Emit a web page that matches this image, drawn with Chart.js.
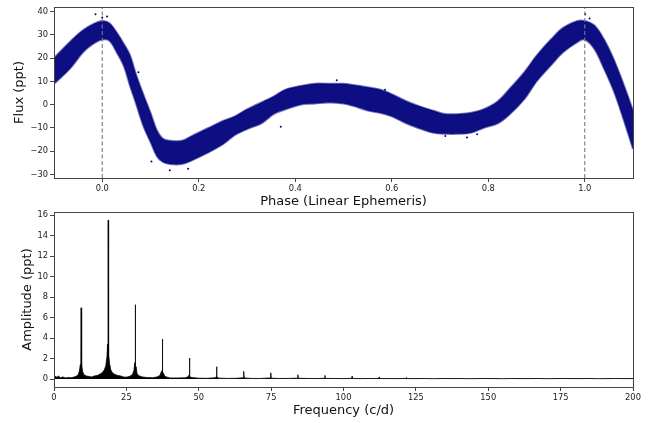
<!DOCTYPE html>
<html>
<head>
<meta charset="utf-8">
<script src="https://cdn.jsdelivr.net/npm/chart.js@4.4.1/dist/chart.umd.min.js"></script>
<style>
  html, body { margin: 0; padding: 0; background: #fff; }
  #wrap { position: relative; width: 659px; height: 423px; }
  canvas { position: absolute; left: 0; }
  #curva { top: 0; }
  #espectro { top: 205px; }
</style>
</head>
<body>
<div id="wrap">
  <canvas id="curva" width="659" height="215"></canvas>
  <canvas id="espectro" width="659" height="218"></canvas>
</div>
<script>
// Light curve: lower/upper edge of the phase-folded point cloud (ppt)
const phaseGrid = [-0.10, -0.067, -0.04, -0.02, 0.00, 0.015, 0.03, 0.045, 0.057, 0.07,
  0.085, 0.10, 0.113, 0.125, 0.14, 0.165, 0.19, 0.22, 0.25, 0.275,
  0.30, 0.33, 0.355, 0.38, 0.41, 0.44, 0.47, 0.50, 0.52, 0.55,
  0.575, 0.60, 0.63, 0.655, 0.685, 0.71, 0.74, 0.765, 0.79, 0.82,
  0.845, 0.875, 0.90, 0.93, 0.955, 0.985, 1.00, 1.02, 1.04, 1.06,
  1.08, 1.10];
const fluxLower = [9, 15.5, 22.5, 26, 28, 27.5, 22.5, 16.5, 8.5, 0.5,
  -9, -16, -22, -24.5, -25.5, -25.5, -23.5, -20.5, -17, -13,
  -10.5, -8, -4, -2, 0, 0.5, 1, 0.5, -0.5, -2.5,
  -3.5, -5, -8, -10, -12, -12.5, -12.5, -12, -10, -8,
  -4, 2.5, 10, 17, 22.5, 27, 28, 24, 15.5, 6,
  -6, -19];
const fluxUpper = [20, 27, 32, 34.5, 36, 35, 31, 26, 21.5, 13,
  4.5, -3.5, -11, -14.5, -15.5, -15.5, -13, -10, -7, -5,
  -2, 1, 3.5, 6.5, 8, 9, 9, 9, 8.5, 7.5,
  6.5, 4.5, 1.5, -0.5, -2.5, -4, -4, -3.5, -2, 1.5,
  7, 14, 21, 28, 33, 36, 36, 34, 28, 19.5,
  9, -2.5];
// stray points outside the main cloud
const strayPhase = [-0.014, 0.0, 0.01, 0.075, 0.102, 0.14, 0.178, 0.21, 0.37, 0.486, 0.586, 0.711, 0.756, 0.777, 1.001, 1.01];
const strayFlux = [38.9, 37.5, 37.9, 13.9, -24.4, -28.2, -27.5, -11.6, -9.5, 10.5, 6.4, -13.4, -14.1, -12.7, 38.9, 37];
const markerPhases = [0, 1];

// Amplitude spectrum (c/d, ppt)
const specFreq = [0, 0.5, 1.0, 1.5, 2.2, 3.0, 4.0, 5.0, 6.0, 7.0,
  7.8, 8.4, 8.8, 9.1, 9.25, 9.36, 9.48, 9.62, 9.9, 10.4,
  11.2, 12.0, 13.0, 14.0, 15.0, 16.0, 16.8, 17.4, 17.9, 18.3,
  18.55, 18.64, 18.72, 18.8, 18.92, 19.2, 19.6, 20.2, 21.0, 22.0,
  23.0, 24.0, 25.0, 26.0, 27.0, 27.6, 27.92, 28.0, 28.08, 28.17,
  28.35, 28.7, 29.5, 30.5, 32.0, 34.0, 35.6, 36.6, 37.2, 37.34,
  37.44, 37.54, 37.7, 38.3, 40.0, 43.0, 45.5, 46.4, 46.7, 46.8,
  46.9, 47.3, 50.0, 53.0, 55.8, 56.08, 56.16, 56.26, 57.0, 60.0,
  63.0, 65.3, 65.52, 65.7, 68.0, 71.0, 74.7, 74.88, 75.05, 78.0,
  81.0, 84.1, 84.24, 84.4, 88.0, 91.0, 93.5, 93.6, 93.7, 97.0,
  100.0, 102.9, 102.96, 103.05, 106.0, 109.0, 112.25, 112.32, 112.4, 116.0,
  119.0, 121.6, 121.68, 121.76, 125, 128, 131, 134, 137, 140,
  143, 146, 149, 152, 155, 158, 161, 164, 167, 170,
  173, 176, 179, 182, 185, 188, 191, 194, 197, 200];
const specAmp = [0.1, 0.3, 0.15, 0.3, 0.12, 0.2, 0.1, 0.15, 0.12, 0.2,
  0.3, 0.45, 0.8, 1.4, 0.5, 6.95, 0.6, 1.3, 0.7, 0.4,
  0.3, 0.25, 0.2, 0.3, 0.35, 0.5, 0.65, 0.9, 1.3, 2.2,
  3.4, 0.8, 15.5, 1.0, 2.3, 1.5, 0.9, 0.6, 0.45, 0.35,
  0.3, 0.2, 0.18, 0.25, 0.4, 0.8, 1.6, 0.5, 7.25, 0.6,
  1.2, 0.5, 0.3, 0.2, 0.15, 0.12, 0.2, 0.35, 0.8, 0.3,
  3.9, 0.4, 0.6, 0.25, 0.1, 0.1, 0.12, 0.25, 0.4, 2.05,
  0.3, 0.15, 0.08, 0.07, 0.12, 0.25, 1.2, 0.2, 0.08, 0.06,
  0.07, 0.12, 0.75, 0.1, 0.06, 0.05, 0.1, 0.6, 0.08, 0.05,
  0.06, 0.08, 0.42, 0.07, 0.05, 0.05, 0.07, 0.35, 0.06, 0.05,
  0.04, 0.06, 0.25, 0.05, 0.04, 0.05, 0.05, 0.2, 0.05, 0.04,
  0.04, 0.05, 0.15, 0.04, 0.04, 0.05, 0.03, 0.05, 0.04, 0.05,
  0.03, 0.04, 0.05, 0.04, 0.03, 0.05, 0.04, 0.04, 0.05, 0.03,
  0.04, 0.05, 0.04, 0.04, 0.05, 0.03, 0.04, 0.05, 0.04, 0.04];

// Tick labels
const phaseTicks = [0.0, 0.2, 0.4, 0.6, 0.8, 1.0];
const fluxTicks = [-30, -20, -10, 0, 10, 20, 30, 40];
const freqTicks = [0, 25, 50, 75, 100, 125, 150, 175, 200];
const ampTicks = [0, 2, 4, 6, 8, 10, 12, 14, 16];

const fluxMin = -31.5, fluxMax = 42;
const ampMin = -0.78, ampMax = 16.3;

Chart.defaults.font.family = "'DejaVu Sans', sans-serif";
Chart.defaults.color = "#222";

const navy = "#000080";
const menos = (v) => String(v).replace("-", "\u2212");

// draws the box around the plot area
const moldura = {
  id: "moldura",
  afterDraw(chart) {
    const { ctx, chartArea: a } = chart;
    ctx.save();
    ctx.strokeStyle = "#444";
    ctx.lineWidth = 1;
    ctx.strokeRect(Math.round(a.left) + 0.5, Math.round(a.top) + 0.5,
      Math.round(a.right - a.left), Math.round(a.bottom - a.top));
    ctx.restore();
  }
};

function criarEixo(min, max, valores, larguraOuAltura, horizontal, titulo, padTitulo, formato) {
  return {
    type: "linear",
    min: min,
    max: max,
    afterBuildTicks: (s) => { s.ticks = valores.map((v) => ({ value: v })); },
    afterFit: (s) => { if (horizontal) s.height = larguraOuAltura; else s.width = larguraOuAltura; },
    grid: { drawOnChartArea: false, drawTicks: true, tickLength: 4, color: "#444" },
    border: { display: false },
    ticks: { font: { size: 8.3 }, color: "#222", padding: 2, autoSkip: false, maxRotation: 0, callback: formato },
    title: { display: true, text: titulo, font: { size: 13 }, color: "#111", padding: padTitulo }
  };
}

// Top panel: phase-folded light curve
const lowerPts = phaseGrid.map((p, i) => ({ x: p, y: fluxLower[i] }));
const upperPts = phaseGrid.map((p, i) => ({ x: p, y: fluxUpper[i] }));
const strayPts = strayPhase.map((p, i) => ({ x: p, y: strayFlux[i] }));

const curvaSets = [
  { data: lowerPts, borderColor: "rgba(0,0,128,0.55)", borderWidth: 2, pointRadius: 0, tension: 0.35, fill: false, order: 3 },
  { data: upperPts, borderColor: "rgba(0,0,128,0.55)", borderWidth: 2, pointRadius: 0, tension: 0.35,
    fill: "-1", backgroundColor: "rgba(4,4,126,0.96)", order: 2 },
  { type: "scatter", data: strayPts, pointRadius: 1, backgroundColor: navy, borderWidth: 0, order: 1 }
];
markerPhases.forEach((p) => {
  curvaSets.push({
    data: [{ x: p, y: fluxMin }, { x: p, y: fluxMax }],
    borderColor: "#7a7a7a", borderDash: [4, 2.5], borderWidth: 1.1, pointRadius: 0, fill: false, order: 0
  });
});

new Chart(document.getElementById("curva"), {
  type: "line",
  data: { datasets: curvaSets },
  options: {
    responsive: false,
    animation: false,
    layout: { padding: { top: 4, right: 26, left: 0, bottom: 0 } },
    plugins: { legend: { display: false }, tooltip: { enabled: false } },
    scales: {
      x: criarEixo(-0.1, 1.1, phaseTicks, 37, true, "Phase (Linear Ephemeris)", { top: 0, bottom: 6 }, (v) => v.toFixed(1)),
      y: criarEixo(fluxMin, fluxMax, fluxTicks, 54, false, "Flux (ppt)", { top: 12, bottom: 0 }, menos)
    }
  },
  plugins: [moldura]
});

// Bottom panel: amplitude spectrum
const specPts = specFreq.map((f, i) => ({ x: f, y: specAmp[i] }));

new Chart(document.getElementById("espectro"), {
  type: "line",
  data: {
    datasets: [
      { data: specPts, borderColor: "#000", borderWidth: 0.8, pointRadius: 0, tension: 0,
        fill: "origin", backgroundColor: "#000" }
    ]
  },
  options: {
    responsive: false,
    animation: false,
    layout: { padding: { top: 7, right: 26, left: 0, bottom: 0 } },
    plugins: { legend: { display: false }, tooltip: { enabled: false } },
    scales: {
      x: criarEixo(0, 200, freqTicks, 36, true, "Frequency (c/d)", { top: 0, bottom: 5 }, (v) => String(v)),
      y: criarEixo(ampMin, ampMax, ampTicks, 54, false, "Amplitude (ppt)", { top: 20, bottom: 0 }, menos)
    }
  },
  plugins: [moldura]
});
</script>
</body>
</html>
